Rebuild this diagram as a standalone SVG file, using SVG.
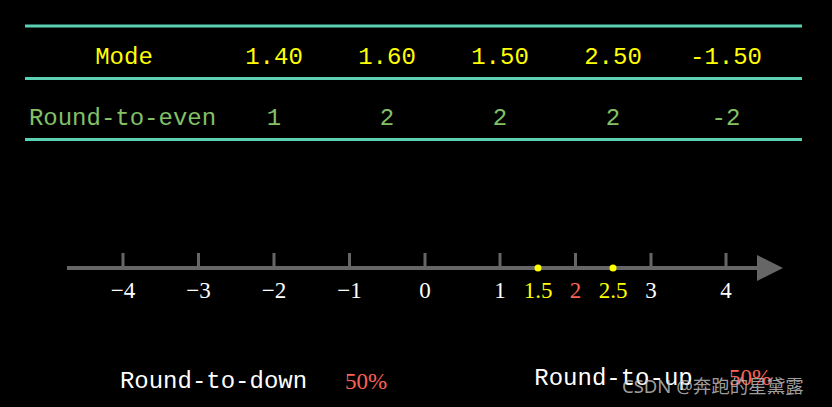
<svg xmlns="http://www.w3.org/2000/svg" width="832" height="407" viewBox="0 0 832 407">
<style>
.mono{font-family:"Liberation Mono","DejaVu Sans Mono",monospace;font-size:24px;text-anchor:middle}
.ser{font-family:"Liberation Serif","DejaVu Serif",serif;font-size:23px;text-anchor:middle}
.y{fill:#FFFF00}
.g{fill:#83C167}
.w{fill:#FFFFFF}
.r{fill:#FC6255}
.rule{stroke:#5CD0B3;stroke-width:3}
.tick{stroke:#666666;stroke-width:3}
</style>
<rect width="832" height="407" fill="#000000"/>
<g id="table">
  <line class="rule" x1="25" y1="26" x2="802" y2="26"/>
  <line class="rule" x1="25" y1="78.5" x2="802" y2="78.5"/>
  <line class="rule" x1="25" y1="139.5" x2="802" y2="139.5"/>
  <g id="header">
    <text class="mono y" x="124" y="64">Mode</text>
    <text class="mono y" x="274" y="64">1.40</text>
    <text class="mono y" x="387" y="64">1.60</text>
    <text class="mono y" x="500" y="64">1.50</text>
    <text class="mono y" x="613" y="64">2.50</text>
    <text class="mono y" x="726" y="64">-1.50</text>
  </g>
  <g id="row-even">
    <text class="mono g" x="122.5" y="125">Round-to-even</text>
    <text class="mono g" x="274" y="125">1</text>
    <text class="mono g" x="387" y="125">2</text>
    <text class="mono g" x="500" y="125">2</text>
    <text class="mono g" x="613" y="125">2</text>
    <text class="mono g" x="726" y="125">-2</text>
  </g>
</g>
<g id="number-line">
  <line x1="67" y1="268" x2="760" y2="268" stroke="#666666" stroke-width="4"/>
  <polygon points="757,255 783,268 757,281" fill="#666666"/>
  <g id="ticks">
    <line class="tick" x1="123" y1="253" x2="123" y2="268"/>
    <line class="tick" x1="198.5" y1="253" x2="198.5" y2="268"/>
    <line class="tick" x1="274" y1="253" x2="274" y2="268"/>
    <line class="tick" x1="349.5" y1="253" x2="349.5" y2="268"/>
    <line class="tick" x1="425" y1="253" x2="425" y2="268"/>
    <line class="tick" x1="500" y1="253" x2="500" y2="268"/>
    <line class="tick" x1="575.5" y1="253" x2="575.5" y2="268"/>
    <line class="tick" x1="651" y1="253" x2="651" y2="268"/>
    <line class="tick" x1="726" y1="253" x2="726" y2="268"/>
  </g>
  <circle cx="538" cy="268" r="3.5" fill="#FFFF00"/>
  <circle cx="613" cy="268" r="3.5" fill="#FFFF00"/>
  <g id="labels">
    <text class="ser w" x="123" y="298">−4</text>
    <text class="ser w" x="198.5" y="298">−3</text>
    <text class="ser w" x="274" y="298">−2</text>
    <text class="ser w" x="349.5" y="298">−1</text>
    <text class="ser w" x="425" y="298">0</text>
    <text class="ser w" x="500" y="298">1</text>
    <text class="ser y" x="538" y="298">1.5</text>
    <text class="ser r" x="575.5" y="298">2</text>
    <text class="ser y" x="613" y="298">2.5</text>
    <text class="ser w" x="651" y="298">3</text>
    <text class="ser w" x="726" y="298">4</text>
  </g>
</g>
<g id="round-down">
  <text class="mono w" x="213.5" y="388">Round-to-down</text>
  <text class="ser r" x="366" y="389">50%</text>
</g>
<g id="round-up">
  <text class="mono w" x="613.5" y="385">Round-to-up</text>
  <text class="ser r" x="750" y="385">50%</text>
</g>
<text x="622" y="393" font-family="'Noto Sans','Noto Sans CJK SC',sans-serif" font-size="18.5" fill="#C8C8C8" fill-opacity="0.8">CSDN @奔跑的星黛露</text>
</svg>
